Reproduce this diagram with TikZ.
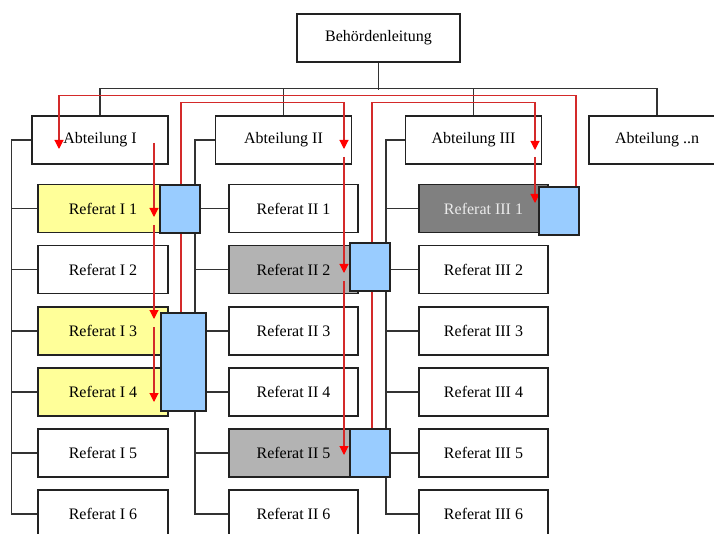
\documentclass[tikz,border=0pt]{standalone}
\usepackage{fontspec}
\setmainfont{Liberation Serif}
\usetikzlibrary{arrows.meta}
\definecolor{boxline}{HTML}{222222}
\definecolor{treeline}{HTML}{333333}
\definecolor{refyellow}{HTML}{FFFF99}
\definecolor{reflight}{HTML}{B3B3B3}
\definecolor{refdark}{HTML}{808080}
\definecolor{linkblue}{HTML}{99CCFF}
\definecolor{flowred}{HTML}{D42A2A}
\begin{document}
\begin{tikzpicture}[x=1pt,y=-1pt,
  box/.style={draw=boxline, line width=1.1pt, fill=white, minimum height=48pt,
    inner sep=0pt, font=\fontsize{16}{19}\selectfont},
  abt/.style={box, minimum width=136pt},
  ref/.style={box, minimum width=129pt},
  hl/.style={fill=refyellow},
  mid/.style={fill=reflight},
  dark/.style={fill=refdark, text=white!92!black},
  link/.style={draw=boxline, line width=1.1pt, fill=linkblue, inner sep=0pt,
    minimum width=40pt},
  tree/.style={draw=treeline, line width=1.1pt},
  flow/.style={draw=flowred, line width=1.1pt,
    -{Triangle[width=9pt,length=9pt,color=red]}}]
\useasboundingbox (0,0) rectangle (714,534);
\clip (0,0) rectangle (714,534);

% head of the organisation and departments
\node[box, minimum width=163pt] (top) at (378.5,38) {Behördenleitung};
\node[abt] (abt1) at (100,140) {Abteilung I};
\node[abt] (abt2) at (283.5,140) {Abteilung II};
\node[abt] (abt3) at (473.5,140) {Abteilung III};
\node[abt] (abtn) at (657,140) {Abteilung ..n};

% sections of the three departments
\foreach \k/\y in {1/208.5,2/269.5,3/331,4/392,5/453,6/514}{
  \node[ref, minimum width=130pt] (r1\k) at (103,\y) {Referat I \k};
  \node[ref] (r2\k) at (293.5,\y) {Referat II \k};
  \node[ref] (r3\k) at (483.5,\y) {Referat III \k};
}
\node[ref, minimum width=130pt, hl] at (r11) {Referat I 1};
\node[ref, minimum width=130pt, hl] at (r13) {Referat I 3};
\node[ref, minimum width=130pt, hl] at (r14) {Referat I 4};
\node[ref, mid] at (r22) {Referat II 2};
\node[ref, mid] at (r25) {Referat II 5};
\node[ref, dark] at (r31) {Referat III 1};

% organisation tree
\draw[tree] (top.south) -- ++(0,27);
\draw[tree] (abt1.north) -- ++(0,-27) -| (abtn.north);
\draw[tree] (abt2.north) -- ++(0,-27);
\draw[tree] (abt3.north) -- ++(0,-27);
\draw[tree] (abt1.west) -- ++(-20,0) |- (r16.west);
\draw[tree] (abt2.west) -- ++(-20,0) |- (r26.west);
\draw[tree] (abt3.west) -- ++(-19,0) |- (r36.west);
\foreach \k in {1,...,5}{
  \draw[tree] (r1\k.west) -- ++(-26,0);
  \draw[tree] (r2\k.west) -- ++(-34,0);
  \draw[tree] (r3\k.west) -- ++(-33,0);
}

% joint working groups
\node[link, minimum height=48pt] (b11) at (180,209) {};
\node[link, minimum width=45pt, minimum height=98pt] (b134) at (183.5,362) {};
\node[link, minimum height=48pt] (b22) at (370,267) {};
\node[link, minimum height=48pt] (b25) at (370,453) {};
\node[link, minimum height=48pt] (b31) at (559,211) {};

% arrow ends and segment starts
\coordinate (tA1) at (59,149);
\coordinate (tA2) at (344,149);
\coordinate (tA3) at (535,150);
\coordinate (s11) at (154,143); \coordinate (e11) at (154,217);
\coordinate (s13) at (154,225); \coordinate (e13) at (154,319);
\coordinate (s14) at (154,327); \coordinate (e14) at (154,402);
\coordinate (s22) at (344,157); \coordinate (e22) at (344,273);
\coordinate (s25) at (344,281); \coordinate (e25) at (344,455);
\coordinate (s31) at (535,157); \coordinate (e31) at (535,203);

% information flow
\draw[flow] ([xshift=17pt]b31.north) -- ++(0,-91) -| (tA1);
\draw[flow] ([xshift=-2.5pt]b134.north) -- ++(0,-210) -| (tA2);
\draw[flow] ([xshift=2pt]b25.north) -- ++(0,-326) -| (tA3);
\draw[flow] (s11) -- (e11);
\draw[flow] (s13) -- (e13);
\draw[flow] (s14) -- (e14);
\draw[flow] (s22) -- (e22);
\draw[flow] (s25) -- (e25);
\draw[flow] (s31) -- (e31);

% groups drawn again over the lines that run behind them
\node[link, minimum height=48pt] at (b11) {};
\node[link, minimum width=45pt, minimum height=98pt] at (b134) {};
\node[link, minimum height=48pt] at (b22) {};
\node[link, minimum height=48pt] at (b25) {};
\node[link, minimum height=48pt] at (b31) {};
\end{tikzpicture}
\end{document}
